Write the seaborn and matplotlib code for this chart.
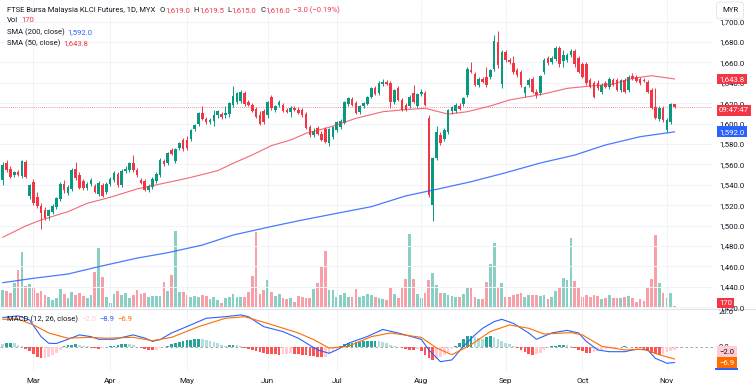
import matplotlib
matplotlib.use("Agg")
import matplotlib.pyplot as plt
import seaborn as sns
from matplotlib.lines import Line2D
from matplotlib.patches import Rectangle
from matplotlib.transforms import blended_transform_factory

# Daily candles, FKLI futures, 19 Feb - 5 Nov 2024
open_ = [1545, 1561, 1556, 1550, 1553, 1549, 1562, 1529, 1543, 1528, 1519, 1515, 1509, 1513, 1518, 1526,
         1541, 1532, 1536, 1556, 1550, 1544, 1537, 1541, 1539, 1531, 1540, 1533, 1541, 1545, 1551, 1540,
         1554, 1555, 1561, 1555, 1545, 1544, 1535, 1538, 1544, 1550, 1563, 1561, 1574, 1563, 1576, 1584,
         1584, 1585, 1595, 1600, 1610, 1605, 1602, 1603, 1608, 1609, 1608, 1609, 1618, 1621, 1622, 1630,
         1621, 1618, 1614, 1608, 1612, 1608, 1626, 1613, 1618, 1618, 1613, 1611, 1615, 1613, 1613, 1609,
         1597, 1589, 1596, 1590, 1595, 1581, 1587, 1594, 1597, 1601, 1619, 1624, 1620, 1611, 1617, 1619,
         1626, 1635, 1630, 1639, 1641, 1640, 1621, 1635, 1623, 1618, 1617, 1630, 1617, 1629, 1630, 1606,
         1520, 1566, 1589, 1585, 1592, 1612, 1612, 1617, 1619, 1628, 1653, 1649, 1638, 1644, 1646, 1646,
         1654, 1680, 1639, 1670, 1662, 1659, 1653, 1651, 1630, 1638, 1644, 1631, 1630, 1651, 1664, 1660,
         1663, 1674, 1661, 1662, 1667, 1671, 1664, 1658, 1658, 1643, 1640, 1640, 1631, 1640, 1636, 1643,
         1643, 1633, 1643, 1633, 1647, 1646, 1644, 1643, 1641, 1633, 1616, 1605, 1615, 1594, 1602, 1619]
high_ = [1562, 1564, 1558, 1554, 1555, 1564, 1564, 1541, 1546, 1533, 1522, 1518, 1516, 1521, 1528, 1543,
         1545, 1540, 1557, 1562, 1553, 1546, 1543, 1547, 1541, 1544, 1542, 1543, 1548, 1554, 1553, 1556,
         1558, 1562, 1569, 1557, 1547, 1546, 1541, 1548, 1553, 1566, 1565, 1572, 1576, 1576, 1582, 1586,
         1588, 1595, 1600, 1611, 1617, 1607, 1606, 1613, 1613, 1611, 1617, 1621, 1637, 1631, 1633, 1632,
         1623, 1620, 1616, 1612, 1614, 1622, 1628, 1618, 1623, 1620, 1615, 1617, 1617, 1616, 1615, 1611,
         1599, 1596, 1598, 1593, 1597, 1596, 1598, 1603, 1605, 1622, 1626, 1626, 1622, 1618, 1621, 1627,
         1636, 1637, 1642, 1644, 1643, 1642, 1634, 1637, 1625, 1620, 1628, 1638, 1630, 1634, 1632, 1608,
         1567, 1598, 1592, 1596, 1614, 1617, 1620, 1620, 1626, 1656, 1660, 1651, 1646, 1646, 1656, 1654,
         1687, 1691, 1672, 1672, 1664, 1666, 1655, 1653, 1637, 1645, 1646, 1634, 1648, 1664, 1666, 1666,
         1676, 1676, 1672, 1669, 1673, 1673, 1666, 1660, 1660, 1645, 1642, 1643, 1640, 1642, 1646, 1645,
         1645, 1644, 1645, 1648, 1650, 1648, 1646, 1645, 1643, 1635, 1635, 1617, 1617, 1606, 1620, 1619.5]
low_ = [1540, 1553, 1547, 1548, 1549, 1547, 1547, 1526, 1520, 1517, 1497, 1506, 1506, 1511, 1516, 1524,
        1532, 1530, 1534, 1545, 1536, 1535, 1535, 1539, 1532, 1529, 1528, 1531, 1539, 1543, 1538, 1538,
        1552, 1553, 1553, 1548, 1541, 1534, 1533, 1536, 1542, 1548, 1558, 1559, 1569, 1561, 1574, 1573,
        1574, 1583, 1593, 1598, 1604, 1600, 1600, 1598, 1606, 1605, 1606, 1607, 1616, 1619, 1620, 1617,
        1617, 1611, 1606, 1599, 1600, 1606, 1613, 1611, 1616, 1611, 1610, 1607, 1612, 1609, 1607, 1595,
        1587, 1587, 1589, 1583, 1581, 1578, 1585, 1592, 1595, 1600, 1617, 1617, 1609, 1609, 1615, 1618,
        1625, 1628, 1628, 1637, 1638, 1615, 1619, 1622, 1612, 1612, 1615, 1620, 1615, 1627, 1617, 1528,
        1505, 1564, 1579, 1583, 1590, 1609, 1610, 1613, 1617, 1626, 1650, 1637, 1636, 1640, 1636, 1644,
        1652, 1655, 1635, 1660, 1658, 1649, 1646, 1636, 1626, 1636, 1630, 1625, 1628, 1649, 1657, 1658,
        1661, 1656, 1656, 1660, 1665, 1656, 1650, 1645, 1638, 1635, 1625, 1633, 1629, 1635, 1634, 1637,
        1632, 1631, 1630, 1631, 1643, 1641, 1638, 1641, 1630, 1614, 1605, 1603, 1602, 1592, 1600, 1615]
close_ = [1559, 1555, 1548, 1553, 1550, 1563, 1548, 1540, 1522, 1519, 1512, 1508, 1515, 1519, 1527, 1541,
          1535, 1538, 1555, 1547, 1537, 1537, 1541, 1545, 1533, 1542, 1529, 1541, 1546, 1552, 1540, 1554,
          1556, 1561, 1555, 1550, 1542, 1535, 1539, 1546, 1551, 1564, 1560, 1571, 1570, 1575, 1581, 1575,
          1576, 1594, 1599, 1610, 1605, 1602, 1604, 1608, 1612, 1607, 1610, 1620, 1627, 1630, 1631, 1619,
          1618, 1612, 1607, 1600, 1602, 1621, 1615, 1617, 1621, 1612, 1611, 1615, 1613, 1610, 1608, 1596,
          1589, 1593, 1590, 1584, 1582, 1595, 1597, 1602, 1603, 1621, 1625, 1618, 1610, 1617, 1620, 1626,
          1635, 1629, 1640, 1641, 1639, 1621, 1633, 1623, 1613, 1613, 1626, 1621, 1629, 1631, 1618, 1530,
          1566, 1592, 1581, 1594, 1613, 1616, 1618, 1614, 1625, 1654, 1651, 1638, 1644, 1641, 1638, 1653,
          1681, 1657, 1670, 1662, 1660, 1651, 1648, 1638, 1636, 1643, 1631, 1628, 1647, 1662, 1659, 1664,
          1674, 1658, 1667, 1667, 1671, 1658, 1651, 1646, 1640, 1636, 1626, 1635, 1638, 1636, 1644, 1638,
          1633, 1643, 1631, 1646, 1644, 1642, 1640, 1642, 1631, 1615, 1606, 1615, 1604, 1604, 1619, 1616]
volume = [1980, 1870, 1650, 2750, 4180, 6160, 2420, 2640, 2200, 1650, 1870, 1430, 1210, 880, 1100, 2090,
          1540, 1100, 1760, 1430, 1650, 1320, 1100, 1430, 3960, 6600, 3410, 1210, 550, 1540, 1870, 1430,
          1650, 1100, 1430, 1980, 1540, 1650, 1210, 1320, 1320, 1320, 2860, 1870, 3630, 8470, 1760, 1760,
          1430, 1210, 1320, 1210, 1430, 1320, 990, 1210, 880, 550, 1100, 1210, 1540, 1210, 1210, 1210,
          1760, 3520, 8360, 1540, 1980, 3080, 1760, 1320, 1540, 1100, 990, 1100, 660, 1320, 1210, 1100,
          1100, 2090, 2750, 4620, 6270, 1980, 1980, 1210, 1430, 1650, 1210, 1210, 2090, 1210, 1320, 1540,
          1430, 1210, 1100, 990, 880, 2200, 1540, 1100, 2200, 3190, 8140, 3190, 1540, 1100, 1650, 3080,
          3850, 2530, 1650, 1650, 1430, 1320, 1210, 1210, 1540, 2200, 2200, 1210, 990, 990, 2860, 4840,
          7150, 2310, 2750, 1210, 1210, 1430, 1540, 1650, 1210, 1430, 1430, 1430, 1320, 1430, 990, 1210,
          1870, 2310, 3300, 3080, 7700, 2970, 2200, 1210, 1430, 1210, 1430, 1320, 990, 1100, 1430, 1100,
          1100, 1100, 1210, 1320, 1100, 660, 990, 770, 2310, 3190, 8030, 2750, 1650, 1100, 1650, 170]

# moving averages, read at a set of bars
sma200_idx = [0, 8, 17, 25, 35, 43, 52, 60, 70, 78, 87, 96, 105, 113, 122, 131, 140, 149, 157, 166, 175]
sma200_val = [1444.1, 1448.4, 1452.6, 1459.8, 1468.2, 1473.5, 1481.0, 1490.8, 1499.2, 1505.5, 1512.1,
              1518.6, 1529.2, 1535.6, 1543.1, 1551.9, 1561.4, 1569.2, 1579.1, 1587.2, 1592.0]
sma50_idx = [0, 6, 10, 17, 22, 28, 35, 41, 48, 56, 60, 65, 70, 75, 79, 85, 92, 99, 105, 110, 116, 121,
             127, 132, 138, 141, 147, 153, 159, 164, 169, 175]
sma50_val = [1488.6, 1499.7, 1505.6, 1513.7, 1521.9, 1527.8, 1536.0, 1540.8, 1546.4, 1553.9, 1561.1,
             1569.3, 1578.5, 1584.0, 1590.5, 1596.4, 1605.2, 1611.7, 1613.8, 1615.0, 1609.4, 1611.7,
             1617.3, 1623.2, 1627.1, 1629.2, 1634.6, 1636.9, 1638.8, 1644.4, 1647.0, 1643.8]

# MACD (12, 26, close)
macd_idx = [0, 4, 7, 10, 12, 14, 17, 20, 23, 25, 29, 34, 37, 39, 41, 44, 49, 53, 58, 62, 64, 68, 73, 77,
            82, 85, 87, 90, 95, 99, 103, 109, 111, 114, 117, 120, 123, 125, 128, 130, 133, 137, 139, 143,
            147, 150, 152, 155, 158, 162, 165, 168, 170, 173, 175]
macd_val = [16.8, 17.8, 15.4, 5.9, 2.1, 2.0, 4.4, 6.9, 5.9, 4.4, 4.4, 6.9, 5.1, 3.2, 4.2, 8.0, 12.6, 16.4,
            17.3, 18.3, 17.3, 11.6, 8.8, 5.0, -1.7, -3.6, -1.7, 2.1, 6.0, 10.0, 8.0, 4.4, -1.7, -8.4, -7.4,
            0.4, 6.9, 10.7, 14.5, 15.8, 13.5, 8.0, 4.4, 8.0, 9.5, 8.0, 3.2, -1.7, -2.7, -2.7, -1.3, -1.7,
            -6.5, -9.3, -8.9]
signal_idx = [0, 4, 8, 12, 17, 22, 27, 34, 39, 44, 51, 58, 63, 69, 77, 81, 85, 90, 96, 101, 109, 113,
              117, 122, 127, 132, 137, 141, 148, 151, 156, 162, 167, 171, 175]
signal_val = [15.8, 16.0, 12.6, 8.0, 5.0, 5.5, 5.0, 5.5, 3.6, 5.5, 11.6, 16.4, 17.3, 13.5, 8.0, 4.2, -0.6,
              0.4, 5.9, 8.0, 5.5, -0.6, -4.4, 1.3, 8.8, 12.6, 10.7, 7.4, 8.2, 6.9, 0.4, -1.7, -1.3, -4.4,
              -6.9]
hist = [1.5, 2.2, 2.4, 2.0, 1.2, 0.5, -1.0, -2.5, -4.0, -5.5, -6.5, -6.3, -5.5, -4.5, -3.2, -1.8,
        0.3, 1.0, 1.4, 1.5, 1.2, 0.8, 0.3, -0.3, -0.8, -1.0, -0.6, -0.2, 0.3, 0.8, 1.2, 1.5,
        1.8, 1.5, 1.0, 0.2, -0.5, -1.2, -1.8, -2.0, -1.5, -0.8, 0.2, 0.8, 1.5, 2.2, 2.8, 3.3,
        3.8, 4.2, 4.5, 4.8, 4.5, 4.0, 3.4, 2.8, 2.0, 1.3, 0.8, 0.9, 1.1, 1.0, 0.5, -0.3,
        -1.0, -1.8, -2.5, -3.0, -3.5, -3.8, -4.0, -4.2, -4.3, -4.0, -3.8, -3.5, -3.8, -4.2, -4.5, -4.8,
        -5.0, -5.3, -5.6, -6.0, -5.5, -4.0, -2.5, -1.0, 0.5, 1.5, 2.0, 2.4, 2.7, 3.0, 3.2, 3.4,
        3.5, 3.6, 3.4, 2.8, 2.0, 1.2, 0.5, 0.0, -0.6, -1.0, -1.5, -1.7, -1.2, -2.5, -4.5, -6.5,
        -7.2, -6.8, -5.8, -4.5, -3.0, -1.2, 0.5, 2.5, 4.5, 6.0, 6.2, 5.8, 5.2, 4.8, 5.5, 6.5,
        5.5, 4.5, 3.5, 2.5, 1.5, 0.5, -0.8, -2.0, -3.0, -3.8, -4.3, -4.0, -3.2, -2.0, -0.8, 0.3,
        0.8, 1.0, 1.1, 1.0, 0.6, -0.5, -1.5, -2.5, -3.2, -3.6, -3.0, -2.2, -1.5, -1.0, -0.8, -0.5,
        -0.3, 0.2, 0.3, 0.2, -0.2, -0.5, -0.8, -1.5, -2.5, -3.5, -4.2, -4.5, -3.8, -3.0, -2.5, -2.0]

month_labels = ["Mar", "Apr", "May", "Jun", "Jul", "Aug", "Sep", "Oct", "Nov"]
month_start = [8, 28, 48, 69, 87, 109, 131, 151, 173]

UP, DOWN = "#089981", "#F23645"
BLUE, ORANGE = "#2962FF", "#FF6D00"
TXT, GRID = "#131722", "#F0F3FA"
W, H = 756, 392


def fmt(v):
    return f"{v:,.1f}".replace("-", "\u2212")


def rich_text(fig, x_px, y_px, parts, size):
    # place coloured pieces one after the other on a line
    r = fig.canvas.get_renderer()
    x = x_px
    for text, color, gap in parts:
        t = fig.text(x / W, 1 - y_px / H, text, color=color, fontsize=size, ha="left", va="center")
        x += t.get_window_extent(renderer=r).width + gap


sns.set_theme(style="white")
plt.rcParams["font.family"] = ["Roboto", "DejaVu Sans"]

fig = plt.figure(figsize=(W / 100, H / 100), dpi=100)
rect_price = [0, 1 - 308 / H, 713 / W, 308 / H]
rect_macd = [0, 1 - 372 / H, 713 / W, 63 / H]

n = len(close_)
bars = list(range(n))
up = [c >= o for o, c in zip(open_, close_)]
colors = [UP if u else DOWN for u in up]
xlim = (-0.7, 185.0)

# volume sits underneath the price pane
ax_v = fig.add_axes(rect_price, zorder=1)
ax_v.bar(bars, volume, width=0.72, color=colors, alpha=0.47, linewidth=0)
ax_v.set_ylim(0, 308 * 110)
ax_v.set_xlim(*xlim)
ax_v.axis("off")

ax = fig.add_axes(rect_price, zorder=2)
ax.patch.set_visible(False)
ax.set_xlim(*xlim)
ax.set_ylim(1419.3, 1721.2)

ax.vlines(bars, low_, high_, colors=colors, linewidth=0.7, zorder=3)
bottoms = [min(o, c) for o, c in zip(open_, close_)]
heights = [max(abs(c - o), 0.6) for o, c in zip(open_, close_)]
ax.bar(bars, heights, bottom=bottoms, width=0.68, color=colors, linewidth=0, zorder=4)

sns.lineplot(x=sma200_idx, y=sma200_val, ax=ax, color=BLUE, linewidth=0.9, alpha=0.85, zorder=5)
sns.lineplot(x=sma50_idx, y=sma50_val, ax=ax, color=DOWN, linewidth=0.8, alpha=0.75, zorder=5)
ax.axhline(close_[-1], color=DOWN, linewidth=0.6, linestyle=(0, (1, 1.5)), alpha=0.7, zorder=2)

ax.set_xticks(month_start)
ax.set_xticklabels([])
ax.set_yticks(range(1420, 1701, 20))
ax.set_yticklabels([fmt(v) for v in range(1420, 1701, 20)])
ax.yaxis.tick_right()
ax.tick_params(axis="y", length=0, pad=4.3, labelsize=5.6, labelcolor=TXT)
ax.tick_params(axis="x", length=0)
ax.grid(True, color=GRID, linewidth=0.7)
ax.set_axisbelow(True)
for s in ax.spines.values():
    s.set_visible(False)

# MACD pane
ax2 = fig.add_axes(rect_macd)
ax2.set_xlim(*xlim)
ax2.set_ylim(-14.3, 21.7)
hcol = []
for i, v in enumerate(hist):
    prev = hist[i - 1] if i else v
    if v >= 0:
        hcol.append("#26A69A" if v > prev else "#B2DFDB")
    else:
        hcol.append("#FFCDD2" if v > prev else "#FF5252")
ax2.bar(bars, hist, width=0.7, color=hcol, linewidth=0, zorder=2)
ax2.axhline(0, color="#9598A1", linewidth=0.6, linestyle=(0, (3, 3)), zorder=1)
sns.lineplot(x=macd_idx, y=macd_val, ax=ax2, color=BLUE, linewidth=0.8, zorder=3)
sns.lineplot(x=signal_idx, y=signal_val, ax=ax2, color=ORANGE, linewidth=0.8, zorder=3)
ax2.set_xticks(month_start)
ax2.set_xticklabels(month_labels)
ax2.set_yticks([0, 20])
ax2.set_yticklabels([fmt(0), fmt(20)])
ax2.yaxis.tick_right()
ax2.tick_params(axis="y", length=0, pad=4.3, labelsize=5.6, labelcolor=TXT)
ax2.tick_params(axis="x", length=0, pad=4.0, labelsize=5.8, labelcolor=TXT)
ax2.grid(True, axis="x", color=GRID, linewidth=0.7)
ax2.set_axisbelow(True)
ax2.set_ylabel("")
for s in ax2.spines.values():
    s.set_visible(False)

fig.add_artist(Line2D([0, 1], [1 - 308.5 / H] * 2, color="#E0E3EB", linewidth=0.8))

# price-scale badges
tp = blended_transform_factory(ax.transAxes, ax.transData)
tm = blended_transform_factory(ax2.transAxes, ax2.transData)


def badge(axis_tr, y, text, fc, tc="white"):
    t = fig.text(0, 0, text, fontsize=5.6, color=tc, ha="left", va="center",
                 bbox=dict(boxstyle="square,pad=0.3", fc=fc, ec="none"))
    t.set_transform(axis_tr)
    t.set_position((1.0085, y))
    t.set_clip_on(False)
    return t


badge(tp, sma50_val[-1], fmt(sma50_val[-1]), DOWN)
badge(tp, 1613.0, "09:47:47", DOWN)
badge(tp, sma200_val[-1], fmt(sma200_val[-1]), BLUE)
badge(tp, 1424.2, f"{volume[-1]}", DOWN)
# the MACD-line badge is almost hidden under the signal badge: only its lower edge shows
fig.add_artist(Rectangle((715 / W, 1 - 370 / H), 23 / W, 2.5 / H, transform=fig.transFigure,
                         fc=BLUE, ec="none"))
badge(tm, -9.0, fmt(signal_val[-1]), ORANGE)
badge(tm, -2.7, fmt(hist[-1]), "#FFCDD2", TXT)

fig.text(722 / W, 1 - 10.5 / H, "MYR", fontsize=5.6, color=TXT, ha="left", va="center",
         bbox=dict(boxstyle="round,pad=0.7,rounding_size=0.35", fc="white", ec="#E0E3EB", linewidth=0.6))

# legend lines
chg = close_[-1] - close_[-2]
pct = chg / close_[-2] * 100
chg_txt = f"{fmt(chg)} ({pct:.2f}%)".replace("-", "\u2212")
rich_text(fig, 7, 10, [("FTSE Bursa Malaysia KLCI Futures, 1D, MYX", TXT, 4),
                       ("O", TXT, 0.3), (fmt(open_[-1]), DOWN, 3.5),
                       ("H", TXT, 0.3), (fmt(high_[-1]), DOWN, 3.5),
                       ("L", TXT, 0.3), (fmt(low_[-1]), DOWN, 3.5),
                       ("C", TXT, 0.3), (fmt(close_[-1]), DOWN, 3),
                       (chg_txt, DOWN, 0)], 5.5)
rich_text(fig, 7, 20.5, [("Vol", TXT, 3), (f"{volume[-1]}", DOWN, 0)], 5.5)
rich_text(fig, 7, 31.7, [("SMA (200, close)", TXT, 3), (fmt(sma200_val[-1]), BLUE, 0)], 5.5)
rich_text(fig, 7, 42.7, [("SMA (50, close)", TXT, 3), (fmt(sma50_val[-1]), DOWN, 0)], 5.5)
rich_text(fig, 7, 319, [("MACD (12, 26, close)", TXT, 3), (fmt(hist[-1]), "#FFCDD2", 3),
                        (fmt(macd_val[-1]), BLUE, 3), (fmt(signal_val[-1]), ORANGE, 0)], 5.5)

fig.savefig("out.png", dpi=100)
